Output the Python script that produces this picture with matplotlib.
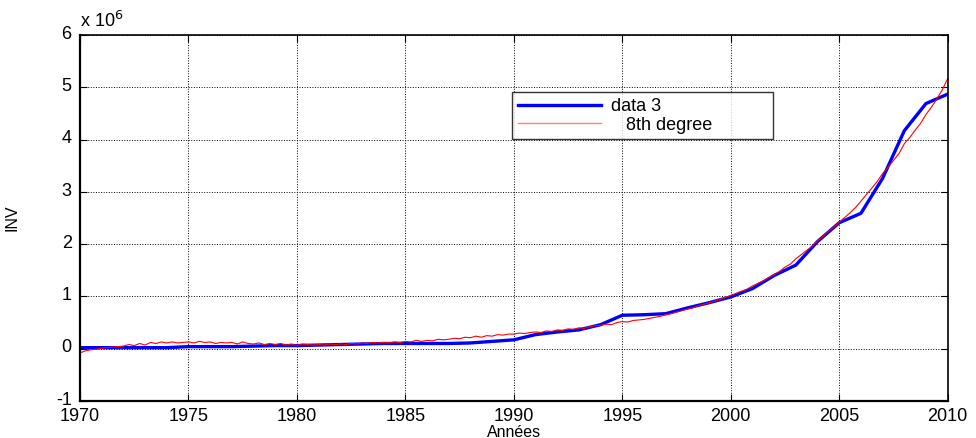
import numpy as np
import matplotlib
matplotlib.use("Agg")
import matplotlib.pyplot as plt
import matplotlib.transforms as mtransforms

plt.rcParams['font.family'] = ['Liberation Sans', 'DejaVu Sans']
plt.rcParams['axes.unicode_minus'] = False

# annual series (x 10^6)
years = np.arange(1970, 2011)
inv = [0.02, 0.02, 0.02, 0.02, 0.02, 0.04, 0.04, 0.04, 0.05, 0.06,
       0.06, 0.07, 0.08, 0.09, 0.10, 0.10, 0.10, 0.10, 0.11, 0.14,
       0.17, 0.27, 0.32, 0.36, 0.46, 0.64, 0.65, 0.67, 0.78, 0.88,
       0.99, 1.15, 1.40, 1.60, 2.05, 2.41, 2.59, 3.26, 4.17, 4.69,
       4.87]

# 8th degree fit, quarterly
fit_t = np.arange(1970, 2010.01, 0.25)
fit_v = [-0.08, -0.04, -0.02, -0.01,
         0.01, 0.02, 0.03, 0.04,
         0.05, 0.08, 0.06, 0.10,
         0.07, 0.12, 0.10, 0.13,
         0.11, 0.13, 0.11, 0.12,
         0.13, 0.11, 0.14, 0.12,
         0.13, 0.10, 0.12, 0.11,
         0.12, 0.09, 0.13, 0.10,
         0.09, 0.11, 0.08, 0.10,
         0.08, 0.10, 0.07, 0.09,
         0.06, 0.09, 0.08, 0.07,
         0.08, 0.07, 0.09, 0.08,
         0.09, 0.08, 0.10, 0.09,
         0.11, 0.10, 0.12, 0.11,
         0.12, 0.11, 0.13, 0.12,
         0.14, 0.13, 0.16, 0.14,
         0.16, 0.15, 0.18, 0.17,
         0.18, 0.20, 0.19, 0.22,
         0.21, 0.24, 0.22, 0.25,
         0.24, 0.27, 0.26, 0.28,
         0.28, 0.30, 0.29, 0.31,
         0.32, 0.31, 0.34, 0.33,
         0.36, 0.35, 0.38, 0.37,
         0.40, 0.39, 0.42, 0.44,
         0.45, 0.47, 0.46, 0.50,
         0.52, 0.51, 0.54, 0.55,
         0.56, 0.58, 0.60, 0.62,
         0.65, 0.67, 0.70, 0.73,
         0.76, 0.78, 0.82, 0.85,
         0.88, 0.91, 0.94, 0.98,
         1.02, 1.06, 1.10, 1.14,
         1.20, 1.25, 1.30, 1.36,
         1.42, 1.48, 1.56, 1.62,
         1.72, 1.80, 1.88, 1.96,
         2.06, 2.15, 2.24, 2.33,
         2.42, 2.51, 2.60, 2.70,
         2.82, 2.95, 3.07, 3.20,
         3.35, 3.47, 3.60, 3.73,
         3.92, 4.04, 4.18, 4.31,
         4.48, 4.62, 4.78, 4.95,
         5.17]

xticks = np.arange(1970, 2011, 5)
yticks = np.arange(-1, 7, 1)

fig = plt.figure(figsize=(9.76, 4.38), dpi=100)
ax = fig.add_axes([0.082, 0.0845, 0.889, 0.8355])

ax.plot(years, inv, color='#0000ff', lw=2.4, label='data 3')
ax.plot(fit_t, fit_v, color='#ff0000', lw=0.8, label='   8th degree           ')

ax.set_xlim(1970, 2010)
ax.set_ylim(-1, 6)
ax.set_xticks(xticks)
ax.set_yticks(yticks)
ax.tick_params(direction='in', top=True, right=True, labelsize=13, length=5)
ax.tick_params(axis='x', pad=5)
ax.tick_params(axis='y', pad=6)
ax.grid(True, color='black', linestyle=':', linewidth=0.7)
for s in ax.spines.values():
    s.set_linewidth(1.2)
ax.spines['left'].set_linewidth(1.6)
ax.spines['bottom'].set_linewidth(1.6)

# y labels sit a touch above their ticks
lift = mtransforms.ScaledTranslation(0, 2 / 72, fig.dpi_scale_trans)
for lab in ax.get_yticklabels():
    lab.set_transform(lab.get_transform() + lift)

ax.set_xlabel('Années', fontsize=11.5, labelpad=0)
ax.set_ylabel('INV', fontsize=11.5, labelpad=26)
ax.text(0.0, 1.012, r'x 10$^{6}$', transform=ax.transAxes, fontsize=13,
        ha='left', va='bottom')

leg = ax.legend(loc='upper left', bbox_to_anchor=(0.498, 0.843), fontsize=13,
                frameon=True, fancybox=False, edgecolor='black',
                borderpad=0.3, labelspacing=0.1, handlelength=4.6,
                handletextpad=0.6, borderaxespad=0)
leg.get_frame().set_linewidth(1.0)
leg.legend_handles[1].set_color('#ff8080')
leg.legend_handles[1].set_linewidth(1.0)

fig.savefig('out.png', dpi=100)
